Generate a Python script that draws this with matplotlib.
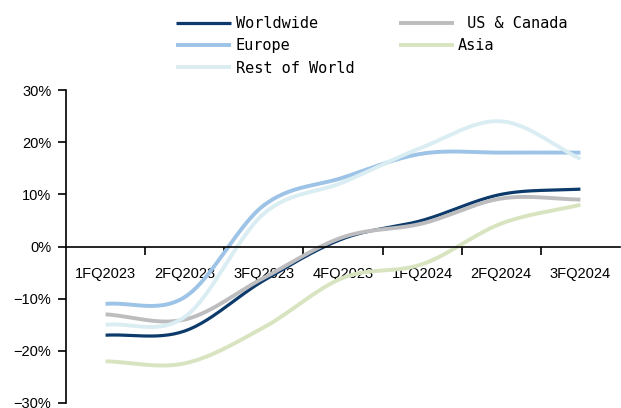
import numpy as np
import matplotlib
matplotlib.use('Agg')
from matplotlib import pyplot as plt
from matplotlib.ticker import FixedLocator, FuncFormatter

quarters = ['1FQ2023', '2FQ2023', '3FQ2023', '4FQ2023',
            '1FQ2024', '2FQ2024', '3FQ2024']

# growth, %
worldwide = [-17.0, -16.2, -6.5, 1.5, 5.0, 10.0, 11.0]
us_canada = [-13.0, -14.0, -6.0, 1.8, 4.4, 9.2, 9.0]
europe = [-11.0, -9.7, 7.9, 13.2, 17.8, 18.0, 18.0]
asia = [-22.0, -22.4, -15.5, -6.0, -3.4, 4.4, 8.0]
rest_of_world = [-15.0, -13.5, 6.3, 12.3, 19.0, 24.0, 16.8]

series = [
    ('Worldwide', worldwide, '#0C3A6B', 2.3),
    (' US & Canada', us_canada, '#BDBDBF', 2.8),
    ('Europe', europe, '#9DC3E6', 2.8),
    ('Asia', asia, '#D8E4BF', 2.8),
    ('Rest of World', rest_of_world, '#D9EDF2', 2.8),
    ]


def smooth(xs, ys, n=30):
    """Excel-style smoothed line (Catmull-Rom through the points)"""
    xs = np.asarray(xs, float)
    ys = np.asarray(ys, float)
    m = np.gradient(ys, xs)
    px, py = [], []
    for i in range(len(xs) - 1):
        t = np.linspace(0, 1, n)
        h = xs[i + 1] - xs[i]
        h00 = 2 * t**3 - 3 * t**2 + 1
        h10 = t**3 - 2 * t**2 + t
        h01 = -2 * t**3 + 3 * t**2
        h11 = t**3 - t**2
        px.extend(xs[i] + t * h)
        py.extend(h00 * ys[i] + h10 * h * m[i] + h01 * ys[i + 1] + h11 * h * m[i + 1])
    return np.array(px), np.array(py)


fig = plt.figure(figsize=(6.21, 4.08), dpi=100)
ax = fig.add_axes([66 / 621, 5 / 408, 554 / 621, 313 / 408])

x = np.arange(len(quarters))
lines = {}
for name, vals, color, lw in series:
    sx, sy = smooth(x, vals)
    lines[name], = ax.plot(sx, sy, color=color, lw=lw, label=name,
                           solid_capstyle='butt')

ax.set_xlim(-0.5, len(quarters) - 0.5)
ax.set_ylim(-30, 30)

for side in ('top', 'right'):
    ax.spines[side].set_visible(False)
ax.spines['bottom'].set_position(('data', 0))
ax.spines['bottom'].set_linewidth(1.2)
ax.spines['left'].set_linewidth(1.2)

ax.set_xticks(x)
ax.set_xticklabels(quarters, fontsize=10.5, family='Liberation Sans')
ax.xaxis.set_minor_locator(FixedLocator(np.arange(0.5, len(quarters) - 0.5, 1)))
ax.tick_params(axis='x', which='major', length=0, pad=15)
ax.tick_params(axis='x', which='minor', length=6, width=1.2, direction='out')

ax.set_yticks(range(-30, 31, 10))
ax.yaxis.set_major_formatter(FuncFormatter(
    lambda v, p: '{:.0f}%'.format(v).replace('-', '\u2212')))
ax.tick_params(axis='y', length=6, width=1.2, pad=4.5, labelsize=10.5)
for lab in ax.get_yticklabels():
    lab.set_family('Liberation Sans')

order = ['Worldwide', 'Europe', 'Rest of World', ' US & Canada', 'Asia']
fig.legend([lines[k] for k in order], order, ncol=2, frameon=False,
           loc='upper left', bbox_to_anchor=(176 / 621, 1 - 16 / 408),
           borderaxespad=0, borderpad=0, handlelength=3.6,
           handletextpad=0.3, columnspacing=2.9, labelspacing=0.48,
           prop={'family': 'DejaVu Sans Mono', 'size': 11})

fig.savefig('out.png', dpi=100)
